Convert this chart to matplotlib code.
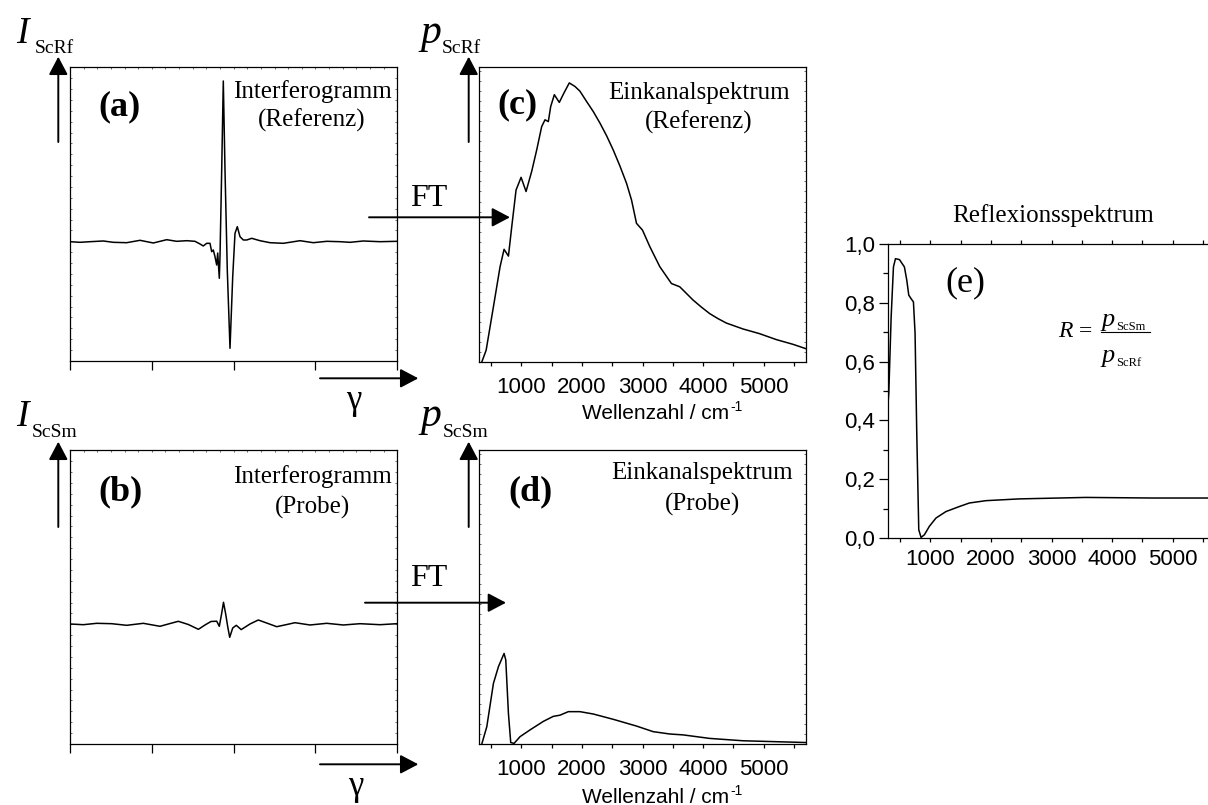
import matplotlib
matplotlib.use("Agg")
import matplotlib.pyplot as plt
from matplotlib.patches import FancyArrowPatch
from matplotlib.lines import Line2D
from matplotlib.ticker import MultipleLocator, NullFormatter, FixedLocator

W, H = 1208, 805
SERIF = ['Liberation Serif', 'DejaVu Serif']
SANS = ['Liberation Sans', 'DejaVu Sans']

# ---------------- data ----------------
# (a) interferogram, reference (optical path in arbitrary units, intensity in a.u.)
ifg_ref_x = [0, 3.06, 6.12, 10.18, 13.24, 17.34, 21.41, 25.47, 29.57, 32.63,
             35.69, 38.23, 39.76, 40.76, 41.8, 42.81, 43.33, 43.82, 44.34, 44.86,
             45.17, 45.66, 45.87, 46.39, 46.88, 47.4, 48.1, 48.93, 49.76, 50.46,
             51.16, 51.99, 53.0, 54.04, 55.57, 58.1, 61.16, 65.23, 70.34, 74.4,
             78.5, 82.57, 85.63, 89.69, 94.8, 100]
ifg_ref_y = [40.58, 40.37, 40.58, 40.82, 40.37, 40.24, 41.05, 40.14, 41.26, 40.71,
             40.92, 40.71, 39.8, 39.12, 40.03, 40.03, 37.18, 37.76, 35.48, 32.65,
             36.73, 28.13, 35.48, 64.97, 95.24, 64.97, 30.95, 4.32, 28.67, 43.44,
             45.68, 42.28, 41.16, 41.16, 41.73, 40.92, 40.24, 40.03, 40.92, 40.24,
             40.71, 40.58, 40.37, 40.82, 40.58, 40.71]

# (b) interferogram, sample
ifg_smp_x = [0, 4.07, 8.17, 12.75, 17.34, 22.42, 24.98, 27.52, 30.28, 33.12,
             36.18, 39.27, 41.28, 43.12, 44.86, 45.66, 46.39, 46.94, 47.61, 48.23,
             48.84, 49.76, 50.86, 52.35, 55.05, 57.58, 60.55, 63.21, 66.06, 68.81,
             73.39, 78.5, 83.58, 88.69, 94.8, 100]
ifg_smp_y = [40.82, 40.58, 41.05, 40.92, 40.37, 41.05, 40.54, 40.03, 40.88, 41.73,
             40.65, 39.01, 40.48, 41.67, 41.77, 40.03, 44.46, 48.2, 44.22, 39.9,
             36.29, 39.46, 40.37, 38.91, 40.82, 42.18, 40.99, 39.9, 40.58, 41.26,
             40.48, 41.05, 40.48, 40.92, 40.58, 40.92]

# (c) single-channel spectrum, reference
wn_ref = [346, 418, 538, 648, 714, 786, 841, 912, 995, 1077,
          1170, 1253, 1335, 1390, 1445, 1484, 1544, 1626, 1703, 1791,
          1885, 1967, 2077, 2187, 2297, 2407, 2516, 2626, 2736, 2819,
          2901, 3000, 3121, 3286, 3478, 3615, 3835, 3973, 4110, 4247,
          4385, 4659, 4934, 5209, 5484, 5700]
sc_ref = [0, 4.0, 18.7, 32.3, 38.2, 35.9, 45.9, 58.3, 62.6, 57.8,
          64.6, 71.9, 79.8, 82.1, 81.5, 86.6, 90.6, 88.0, 91.2, 94.6,
          93.4, 91.8, 88.3, 84.9, 81.0, 76.7, 71.9, 66.5, 60.6, 54.9,
          47.0, 44.7, 39.1, 32.3, 26.6, 25.5, 21.0, 18.6, 16.4, 14.7,
          13.2, 11.2, 9.6, 7.6, 6.0, 4.5]

# (d) single-channel spectrum, sample
wn_smp = [346, 429, 538, 621, 714, 742, 786, 824, 879, 978,
          1143, 1363, 1527, 1637, 1775, 1967, 2187, 2516, 2901, 3176,
          3451, 3670, 4110, 4659, 5700]
sc_smp = [0, 5.9, 20.6, 26.3, 30.8, 28.6, 10.4, 0.5, 0.2, 2.5,
          4.8, 7.7, 9.4, 9.8, 11.0, 11.0, 10.2, 8.4, 6.1, 4.2,
          3.4, 3.1, 1.9, 1.1, 0.5]

# (e) reflectance spectrum
wn_R = [300, 313, 352, 390, 423, 489, 571, 610, 643, 681,
        720, 747, 775, 808, 846, 901, 984, 1093, 1258, 1478,
        1643, 1918, 2467, 3566, 4665, 5700]
refl = [0.458, 0.492, 0.752, 0.922, 0.950, 0.947, 0.922, 0.877, 0.826, 0.814,
        0.803, 0.696, 0.356, 0.028, 0.002, 0.011, 0.040, 0.068, 0.090, 0.107,
        0.119, 0.127, 0.133, 0.138, 0.136, 0.136]

wn_ticks = [1000, 2000, 3000, 4000, 5000]
R_ticks = [0.0, 0.2, 0.4, 0.6, 0.8, 1.0]
R_ticklabels = ['0,0', '0,2', '0,4', '0,6', '0,8', '1,0']
ifg_ticks = [0, 25, 50, 75, 100]

# ---------------- figure ----------------
fig = plt.figure(figsize=(W / 100, H / 100), dpi=100)


def fx(x):
    return x / W


def fy(y):
    return 1 - y / H


def add_axes(l, t, r, b):
    return fig.add_axes([l / W, 1 - b / H, (r - l) / W, (b - t) / H])


def style_spines(ax):
    for s in ax.spines.values():
        s.set_linewidth(0.9)
        s.set_color('black')


def ifg_axes(l, t, r, b, x, y):
    ax = add_axes(l, t, r, b)
    ax.plot(x, y, color='black', lw=1.1, solid_joinstyle='round')
    ax.set_xlim(0, 100)
    ax.set_ylim(0, 100)
    style_spines(ax)
    ax.xaxis.set_major_locator(FixedLocator(ifg_ticks))
    ax.xaxis.set_major_formatter(NullFormatter())
    ax.xaxis.set_minor_locator(MultipleLocator(4.17))
    ax.yaxis.set_major_locator(FixedLocator([]))
    ax.yaxis.set_minor_locator(MultipleLocator(3.7))
    ax.tick_params(axis='x', which='major', direction='out', length=6.5, width=0.9,
                   bottom=True, top=False)
    ax.tick_params(axis='x', which='minor', direction='in', length=1.5, width=0.6,
                   bottom=False, top=True, color='#555555')
    ax.tick_params(axis='y', which='minor', direction='in', length=1.5, width=0.6,
                   left=True, right=True, color='#555555')
    return ax


def spec_axes(l, t, r, b, x, y):
    ax = add_axes(l, t, r, b)
    ax.plot(x, y, color='black', lw=1.1, solid_joinstyle='round')
    ax.set_xlim(300, 5700)
    ax.set_ylim(0, 100)
    style_spines(ax)
    ax.set_xticks(wn_ticks)
    ax.xaxis.set_minor_locator(MultipleLocator(500))
    ax.yaxis.set_major_locator(FixedLocator([]))
    ax.yaxis.set_minor_locator(MultipleLocator(3.4))
    ax.tick_params(axis='x', which='both', direction='out', length=3, width=0.9,
                   bottom=True, top=False, labelsize=16, pad=8)
    ax.tick_params(axis='y', which='minor', direction='in', length=1.5, width=0.6,
                   left=True, right=True, color='#555555')
    for lab in ax.get_xticklabels():
        lab.set_family(SANS)
    return ax


ax_a = ifg_axes(70, 67, 397, 361, ifg_ref_x, ifg_ref_y)
ax_b = ifg_axes(70, 450, 397, 744, ifg_smp_x, ifg_smp_y)
ax_c = spec_axes(479, 67, 806, 362, wn_ref, sc_ref)
ax_d = spec_axes(479, 450, 806, 744, wn_smp, sc_smp)

# (e)
ax_e = add_axes(888, 244, 1215, 538)
ax_e.plot(wn_R, refl, color='black', lw=1.1, solid_joinstyle='round')
ax_e.set_xlim(300, 5700)
ax_e.set_ylim(0.0, 1.0)
style_spines(ax_e)
ax_e.set_xticks(wn_ticks)
ax_e.xaxis.set_minor_locator(MultipleLocator(500))
ax_e.set_yticks(R_ticks)
ax_e.set_yticklabels(R_ticklabels)
ax_e.yaxis.set_minor_locator(MultipleLocator(0.1))
ax_e.tick_params(axis='x', which='both', direction='out', length=3, width=0.9,
                 bottom=True, top=True, labelsize=16, pad=5)
ax_e.tick_params(axis='y', which='major', direction='out', length=6.3, width=0.9,
                 labelsize=16, pad=3)
ax_e.tick_params(axis='y', which='minor', direction='out', length=3.4, width=0.9)
for lab in ax_e.get_xticklabels() + ax_e.get_yticklabels():
    lab.set_family(SANS)


# ---------------- texts ----------------
def text(x, y, s, size, family=SERIF, ha='center', va='center', **kw):
    fig.text(fx(x), fy(y), s, fontsize=size, family=family, ha=ha, va=va, **kw)


def arrow(x0, y0, x1, y1):
    a = FancyArrowPatch((fx(x0), fy(y0)), (fx(x1), fy(y1)), transform=fig.transFigure,
                        arrowstyle='-|>,head_length=11,head_width=5.8', mutation_scale=1,
                        lw=1.4, color='black', shrinkA=0, shrinkB=0)
    fig.add_artist(a)


# panel letters
text(120, 107, '(a)', 26, weight='bold')
text(121, 492, '(b)', 26, weight='bold')
text(517, 105, '(c)', 26, weight='bold')
text(531, 492, '(d)', 26, weight='bold')
text(965, 283, '(e)', 26)

# panel descriptions
text(312, 92, 'Interferogramm', 18)
text(312, 120, '(Referenz)', 18)
text(312, 477, 'Interferogramm', 18)
text(312, 507, '(Probe)', 18)
text(699, 93, 'Einkanalspektrum', 18)
text(699, 122, '(Referenz)', 18)
text(702, 473, 'Einkanalspektrum', 18)
text(702, 504, '(Probe)', 18)
text(1053, 216, 'Reflexionsspektrum', 18)

# x axis titles (Wellenzahl / cm-1)
for yc in (413, 797):
    text(729, yc, 'Wellenzahl / cm', 15, family=SANS, ha='right')
    text(730, yc - 6, '-1', 10, family=SANS, ha='left')

# y quantity labels
text(16, 43, 'I', 27, ha='left', va='baseline', style='italic')
text(35, 53, 'ScRf', 14, ha='left', va='baseline')
text(16, 426, 'I', 27, ha='left', va='baseline', style='italic')
text(32, 437, 'ScSm', 14, ha='left', va='baseline')
text(420, 43, 'p', 30, ha='left', va='baseline', style='italic')
text(442, 53, 'ScRf', 14, ha='left', va='baseline')
text(420, 426, 'p', 30, ha='left', va='baseline', style='italic')
text(443, 437, 'ScSm', 14, ha='left', va='baseline')

# axis arrows
arrow(58.3, 142, 58.3, 56.7)
arrow(58.3, 527, 58.3, 441.7)
arrow(468.7, 142, 468.7, 56.7)
arrow(468.7, 527, 468.7, 441.7)
arrow(320, 378.3, 418.3, 378.3)
arrow(320, 764.3, 418.3, 764.3)
text(354, 400, 'γ', 25)
text(356, 786, 'γ', 25)

# FT arrows
arrow(369, 217.3, 510, 217.3)
arrow(365, 602.7, 506, 602.7)
text(429, 198, 'FT', 23)
text(429, 578, 'FT', 23)

# formula R = p_ScSm / p_ScRf
text(1058, 337, 'R', 17, ha='left', va='baseline', style='italic')
text(1079, 337, '=', 17, ha='left', va='baseline')
fig.add_artist(Line2D([fx(1101), fx(1150)], [fy(332), fy(332)], transform=fig.transFigure,
                      color='black', lw=0.8))
text(1102, 326, 'p', 19, ha='left', va='baseline', style='italic')
text(1116, 330, 'ScSm', 9, ha='left', va='baseline')
text(1102, 362, 'p', 19, ha='left', va='baseline', style='italic')
text(1116, 366, 'ScRf', 9, ha='left', va='baseline')

fig.savefig('out.png', dpi=100)
